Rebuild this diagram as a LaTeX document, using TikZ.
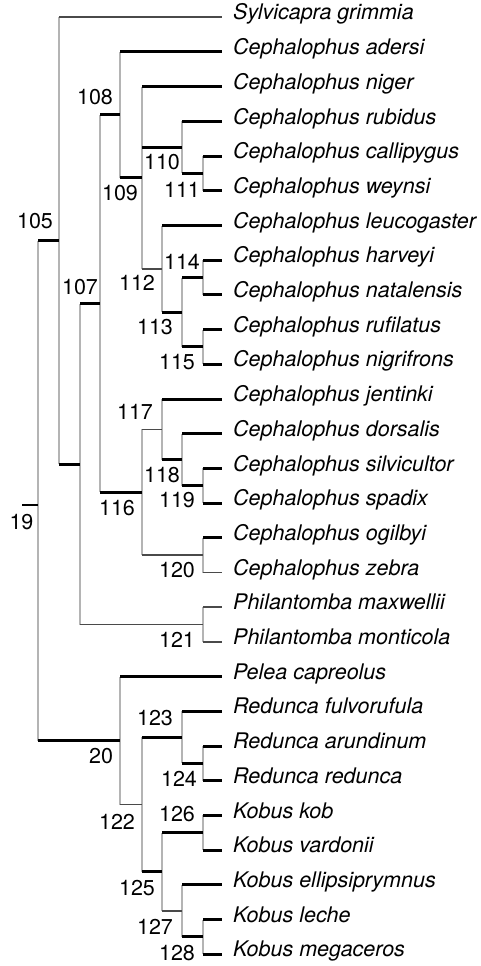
\documentclass[tikz,border=0pt]{standalone}
\usepackage{fontspec}
\setmainfont{TeX Gyre Heros}
\usepackage{tikz}
\definecolor{VGray}{HTML}{B4B4B4}
\definecolor{HGray}{HTML}{4A4A4A}
\tikzset{
  vln/.style={draw=VGray, line width=2.2pt},
  brk/.style={draw=black, line width=3pt},
  brt/.style={draw=HGray, line width=1.6pt},
  lbl/.style={inner sep=0pt, font=\fontsize{21.5}{24}\selectfont},
  sp/.style={anchor=mid west, inner sep=0pt, font=\fontsize{21.5}{24}\selectfont\itshape},
}
\begin{document}
\begin{tikzpicture}[x=1pt, y=-1pt]
\useasboundingbox (0,0) rectangle (481,966);

% Internal nodes (x of the split, y of the branch)
\coordinate (root) at (22,505);
\coordinate (n19)  at (38,505);
\coordinate (n105) at (59,240.7);
\coordinate (ncep) at (80,464.1);
\coordinate (n107) at (100,303.6);
\coordinate (n108) at (120,114.9);
\coordinate (n109) at (142,177.8);
\coordinate (n110) at (182,147.4);
\coordinate (n111) at (203,173.45);
\coordinate (n112) at (162,268.9);
\coordinate (n113) at (182,312.25);
\coordinate (n114) at (203,277.55);
\coordinate (n115) at (203,346.95);
\coordinate (n116) at (142,492.25);
\coordinate (n117) at (162,429.35);
\coordinate (n118) at (182,459.7);
\coordinate (n119) at (203,485.75);
\coordinate (n120) at (203,555.15);
\coordinate (n121) at (203,624.55);
\coordinate (n20)  at (120,740.6);
\coordinate (n122) at (142,804.55);
\coordinate (n123) at (182,737.3);
\coordinate (n124) at (203,763.35);
\coordinate (n125) at (162,871.8);
\coordinate (n126) at (203,832.75);
\coordinate (n127) at (182,910.8);
\coordinate (n128) at (203,936.85);

% Leaf tips
\coordinate (syl) at (222,17.3);
\coordinate (ade) at (222,52.0);
\coordinate (nig) at (222,86.7);
\coordinate (rub) at (222,121.4);
\coordinate (cal) at (222,156.1);
\coordinate (wey) at (222,190.8);
\coordinate (leu) at (222,225.5);
\coordinate (har) at (222,260.2);
\coordinate (nat) at (222,294.9);
\coordinate (ruf) at (222,329.6);
\coordinate (ngf) at (222,364.3);
\coordinate (jen) at (222,399.0);
\coordinate (dor) at (222,433.7);
\coordinate (sil) at (222,468.4);
\coordinate (spa) at (222,503.1);
\coordinate (ogi) at (222,537.8);
\coordinate (zeb) at (222,572.5);
\coordinate (max) at (222,607.2);
\coordinate (mon) at (222,641.9);
\coordinate (pel) at (222,676.6);
\coordinate (ful) at (222,711.3);
\coordinate (aru) at (222,746.0);
\coordinate (red) at (222,780.7);
\coordinate (kob) at (222,815.4);
\coordinate (var) at (222,850.1);
\coordinate (ell) at (222,884.8);
\coordinate (lec) at (222,919.5);
\coordinate (meg) at (222,954.2);

% Species names
\node[sp] (tsyl) at (233,17.3)  {Sylvicapra grimmia};
\node[sp] (tade) at (233,52.0)  {Cephalophus adersi};
\node[sp] (tnig) at (233,86.7)  {Cephalophus niger};
\node[sp] (trub) at (233,121.4) {Cephalophus rubidus};
\node[sp] (tcal) at (233,156.1) {Cephalophus callipygus};
\node[sp] (twey) at (233,190.8) {Cephalophus weynsi};
\node[sp] (tleu) at (233,225.5) {Cephalophus leucogaster};
\node[sp] (thar) at (233,260.2) {Cephalophus harveyi};
\node[sp] (tnat) at (233,294.9) {Cephalophus natalensis};
\node[sp] (truf) at (233,329.6) {Cephalophus rufilatus};
\node[sp] (tngf) at (233,364.3) {Cephalophus nigrifrons};
\node[sp] (tjen) at (233,399.0) {Cephalophus jentinki};
\node[sp] (tdor) at (233,433.7) {Cephalophus dorsalis};
\node[sp] (tsil) at (233,468.4) {Cephalophus silvicultor};
\node[sp] (tspa) at (233,503.1) {Cephalophus spadix};
\node[sp] (togi) at (233,537.8) {Cephalophus ogilbyi};
\node[sp] (tzeb) at (233,572.5) {Cephalophus zebra};
\node[sp] (tmax) at (233,607.2) {Philantomba maxwellii};
\node[sp] (tmon) at (233,641.9) {Philantomba monticola};
\node[sp] (tpel) at (233,676.6) {Pelea capreolus};
\node[sp] (tful) at (233,711.3) {Redunca fulvorufula};
\node[sp] (taru) at (233,746.0) {Redunca arundinum};
\node[sp] (tred) at (233,780.7) {Redunca redunca};
\node[sp] (tkob) at (233,815.4) {Kobus kob};
\node[sp] (tvar) at (233,850.1) {Kobus vardonii};
\node[sp] (tell) at (233,884.8) {Kobus ellipsiprymnus};
\node[sp] (tlec) at (233,919.5) {Kobus leche};
\node[sp] (tmeg) at (233,954.2) {Kobus megaceros};

% Vertical lines
\draw[vln] (n19 |- n105) -- (n19 |- n20)
  (n105 |- syl) -- (n105 |- ncep)
  (ncep |- n107) -- (ncep |- n121)
  (n107 |- n108) -- (n107 |- n116)
  (n108 |- ade) -- (n108 |- n109)
  (n109 |- nig) -- (n109 |- n112)
  (n110 |- rub) -- (n110 |- n111)
  (n111 |- cal) -- (n111 |- wey)
  (n112 |- leu) -- (n112 |- n113)
  (n113 |- n114) -- (n113 |- n115)
  (n114 |- har) -- (n114 |- nat)
  (n115 |- ruf) -- (n115 |- ngf)
  (n116 |- n117) -- (n116 |- n120)
  (n117 |- jen) -- (n117 |- n118)
  (n118 |- dor) -- (n118 |- n119)
  (n119 |- sil) -- (n119 |- spa)
  (n120 |- ogi) -- (n120 |- zeb)
  (n121 |- max) -- (n121 |- mon)
  (n20 |- pel) -- (n20 |- n122)
  (n122 |- n123) -- (n122 |- n125)
  (n123 |- ful) -- (n123 |- n124)
  (n124 |- aru) -- (n124 |- red)
  (n125 |- n126) -- (n125 |- n127)
  (n126 |- kob) -- (n126 |- var)
  (n127 |- ell) -- (n127 |- n128)
  (n128 |- lec) -- (n128 |- meg);

% Thin branches
\draw[brt] (n105 |- syl) -- (syl)
  (n109 |- n112) -- (n112)
  (n116 |- n117) -- (n117)
  (n116 |- n120) -- (n120)
  (n120 |- zeb) -- (zeb)
  (ncep |- n121) -- (n121)
  (n121 |- max) -- (max)
  (n121 |- mon) -- (mon)
  (n20 |- n122) -- (n122)
  (n125 |- n127) -- (n127);

% Thick branches
\draw[brk] (n19 |- n105) -- (n105)
  (n105 |- ncep) -- (ncep)
  (ncep |- n107) -- (n107)
  (n107 |- n108) -- (n108)
  (n108 |- n109) -- (n109)
  (n109 |- n110) -- (n110)
  (n110 |- n111) -- (n111)
  (n112 |- n113) -- (n113)
  (n113 |- n114) -- (n114)
  (n113 |- n115) -- (n115)
  (n107 |- n116) -- (n116)
  (n117 |- n118) -- (n118)
  (n118 |- n119) -- (n119)
  (n19 |- n20) -- (n20)
  (n122 |- n123) -- (n123)
  (n123 |- n124) -- (n124)
  (n122 |- n125) -- (n125)
  (n125 |- n126) -- (n126)
  (n127 |- n128) -- (n128);
\draw[brk] (n108 |- ade) -- (ade) (n109 |- nig) -- (nig)
  (n110 |- rub) -- (rub) (n111 |- cal) -- (cal) (n111 |- wey) -- (wey)
  (n112 |- leu) -- (leu) (n114 |- har) -- (har) (n114 |- nat) -- (nat)
  (n115 |- ruf) -- (ruf) (n115 |- ngf) -- (ngf) (n117 |- jen) -- (jen)
  (n118 |- dor) -- (dor) (n119 |- sil) -- (sil) (n119 |- spa) -- (spa)
  (n120 |- ogi) -- (ogi) (n20 |- pel) -- (pel) (n123 |- ful) -- (ful)
  (n124 |- aru) -- (aru) (n124 |- red) -- (red) (n126 |- kob) -- (kob)
  (n126 |- var) -- (var) (n127 |- ell) -- (ell) (n128 |- lec) -- (lec)
  (n128 |- meg) -- (meg);
\draw[black, line width=2pt] (root) -- (n19);

% Node numbers
\node[lbl] (l19)  at (21.5,521.7) {19};
\node[lbl] (l105) at (35,221)  {105};
\node[lbl] (l107) at (80,287)  {107};
\node[lbl] (l108) at (95,97)   {108};
\node[lbl] (l109) at (120,193) {109};
\node[lbl] (l110) at (162,162) {110};
\node[lbl] (l111) at (182,190) {111};
\node[lbl] (l112) at (137,283) {112};
\node[lbl] (l113) at (155,327) {113};
\node[lbl] (l114) at (182,262) {114};
\node[lbl] (l115) at (177,362) {115};
\node[lbl] (l116) at (117,508) {116};
\node[lbl] (l117) at (135,412) {117};
\node[lbl] (l118) at (162,475) {118};
\node[lbl] (l119) at (177,500) {119};
\node[lbl] (l120) at (177,570) {120};
\node[lbl] (l121) at (177,640) {121};
\node[lbl] (l20)  at (101,756) {20};
\node[lbl] (l122) at (117,822) {122};
\node[lbl] (l123) at (155,718) {123};
\node[lbl] (l124) at (179,779) {124};
\node[lbl] (l125) at (137,888) {125};
\node[lbl] (l126) at (177,814) {126};
\node[lbl] (l127) at (155,927) {127};
\node[lbl] (l128) at (177,953) {128};

\end{tikzpicture}
\end{document}
